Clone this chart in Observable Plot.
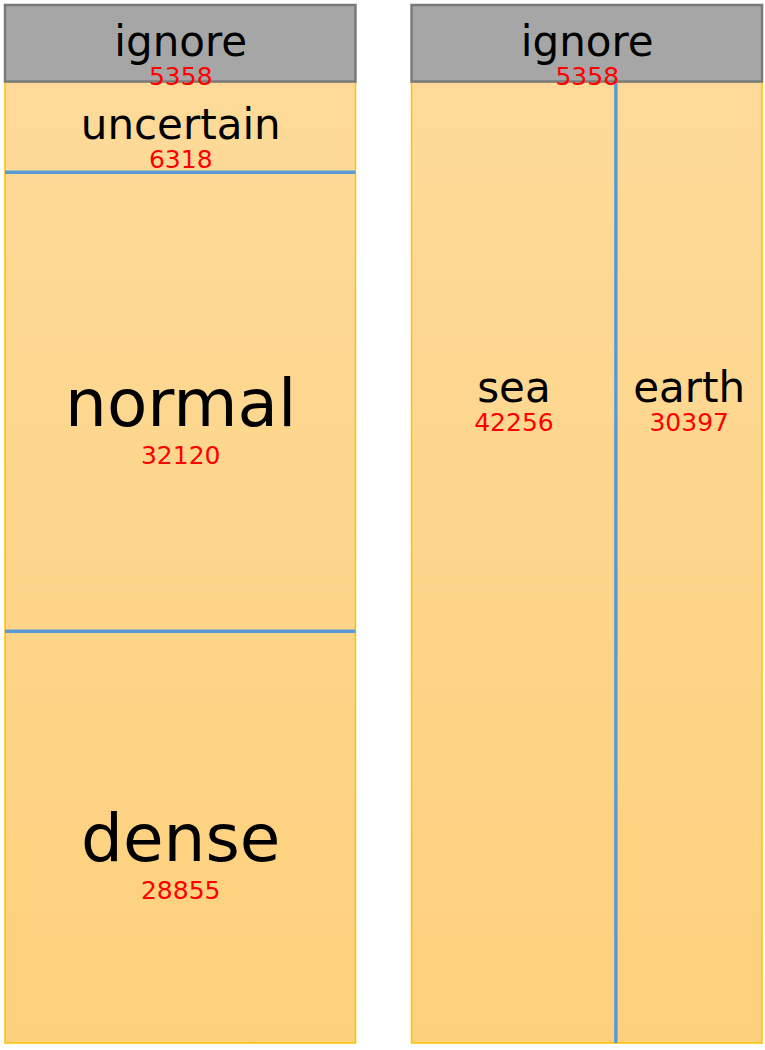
<!DOCTYPE html>
<html>
<head>
<meta charset="utf-8">
<script src="https://cdn.jsdelivr.net/npm/d3@7"></script>
<script src="https://cdn.jsdelivr.net/npm/@observablehq/plot@0.6"></script>
<style>
  html, body { margin: 0; padding: 0; background: #fff; }
</style>
</head>
<body>
<div id="chart"></div>
<script>
// ---- data ----
const leftCategories = ["ignore", "uncertain", "normal", "dense"];
const leftValues = [5358, 6318, 32120, 28855];
const rightCategories = ["ignore", "sea", "earth"];
const rightValues = [5358, 42256, 30397];

// ---- layout derived from data ----
const gap = 0.16;                 // space between the two columns (in column widths)
const total = d3.sum(leftValues);
const regions = [];

// left column: regions stacked top to bottom
{
  let acc = 0;
  leftCategories.forEach((name, i) => {
    const v = leftValues[i];
    regions.push({col: 0, name, value: v, x1: 0, x2: 1, y1: acc, y2: acc + v, full: true});
    acc += v;
  });
}
// right column: header on top, remaining regions side by side below it
{
  const x0 = 1 + gap;
  const head = rightValues[0];
  regions.push({col: 1, name: rightCategories[0], value: head, x1: x0, x2: x0 + 1, y1: 0, y2: head, full: true});
  const restSum = d3.sum(rightValues.slice(1));
  let acc = 0;
  rightCategories.slice(1).forEach((name, j) => {
    const v = rightValues[j + 1];
    regions.push({col: 1, name, value: v, x1: x0 + acc / restSum, x2: x0 + (acc + v) / restSum, y1: head, y2: total, full: false});
    acc += v;
  });
}
regions.forEach(r => {
  r.cx = (r.x1 + r.x2) / 2;
  r.ly = r.y1 + (r.full ? 0.5 : 0.32) * (r.y2 - r.y1);
  r.big = r.full && (r.y2 - r.y1) / total > 0.3;
});

const grayRegions = regions.filter(r => r.name === "ignore");
const warmRegions = regions.filter(r => r.name !== "ignore");

// column outlines for the warm area
const columns = d3.groups(warmRegions, r => r.col).map(([col, rs]) => ({
  col, x1: d3.min(rs, r => r.x1), x2: d3.max(rs, r => r.x2),
  y1: d3.min(rs, r => r.y1), y2: d3.max(rs, r => r.y2)
}));

// blue dividers
const hDividers = warmRegions.filter(r => r.full && regions.some(o => o.col === r.col && o.name !== "ignore" && o.y2 === r.y1));
const vDividers = warmRegions.filter(r => !r.full && regions.some(o => o.col === r.col && !o.full && o.x2 === r.x1));

const blue = "#5B9BD5";

const chart = Plot.plot({
  width: 765,
  height: 1050,
  marginLeft: 5,
  marginRight: 3,
  marginTop: 5,
  marginBottom: 7,
  style: {fontFamily: "DejaVu Sans", background: "white"},
  x: {domain: [0, 2 + gap], axis: null},
  y: {domain: [0, total], reverse: true, axis: null},
  marks: [
    Plot.rect(warmRegions, {x1: "x1", x2: "x2", y1: "y1", y2: "y2", fill: "url(#warm)"}),
    Plot.rect(columns, {x1: "x1", x2: "x2", y1: "y1", y2: "y2", fill: "none", stroke: "#FFC000", strokeWidth: 1.5}),
    Plot.ruleY(hDividers, {y: "y1", x1: "x1", x2: "x2", stroke: blue, strokeWidth: 3.5}),
    Plot.ruleX(vDividers, {x: "x1", y1: "y1", y2: "y2", stroke: blue, strokeWidth: 3.5}),
    Plot.rect(grayRegions, {x1: "x1", x2: "x2", y1: "y1", y2: "y2", fill: "#A6A6A6", stroke: "#7A7A7A", strokeWidth: 2.5}),
    // labels
    Plot.text(regions.filter(r => !r.big), {x: "cx", y: "ly", text: "name", fontSize: 42, fill: "black", lineAnchor: "bottom", dy: 12}),
    Plot.text(regions.filter(r => r.big), {x: "cx", y: "ly", text: "name", fontSize: 66, fill: "black", lineAnchor: "bottom", dy: 24}),
    // values
    Plot.text(regions.filter(r => !r.big), {x: "cx", y: "ly", text: d => String(d.value), fontSize: 25, fill: "#FF0000", lineAnchor: "bottom", dy: 41}),
    Plot.text(regions.filter(r => r.big), {x: "cx", y: "ly", text: d => String(d.value), fontSize: 25, fill: "#FF0000", lineAnchor: "bottom", dy: 62})
  ]
});

// vertical warm gradient shared by the whole page height
const ns = "http://www.w3.org/2000/svg";
const defs = document.createElementNS(ns, "defs");
const grad = document.createElementNS(ns, "linearGradient");
grad.setAttribute("id", "warm");
grad.setAttribute("gradientUnits", "userSpaceOnUse");
grad.setAttribute("x1", "0"); grad.setAttribute("x2", "0");
grad.setAttribute("y1", "5"); grad.setAttribute("y2", "1043");
[["0%", "#FEDB9C"], ["100%", "#FDD17C"]].forEach(([o, c]) => {
  const s = document.createElementNS(ns, "stop");
  s.setAttribute("offset", o); s.setAttribute("stop-color", c);
  grad.appendChild(s);
});
defs.appendChild(grad);
chart.insertBefore(defs, chart.firstChild);

document.getElementById("chart").appendChild(chart);
</script>
</body>
</html>
